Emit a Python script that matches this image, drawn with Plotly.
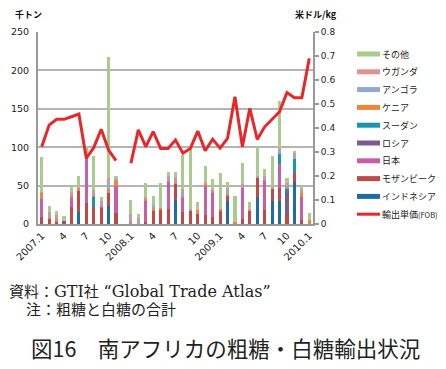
import plotly.graph_objects as go

months = ["2007.1","2007.2","2007.3","2007.4","2007.5","2007.6","2007.7","2007.8","2007.9","2007.10","2007.11","2007.12",
          "2008.1","2008.2","2008.3","2008.4","2008.5","2008.6","2008.7","2008.8","2008.9","2008.10","2008.11","2008.12",
          "2009.1","2009.2","2009.3","2009.4","2009.5","2009.6","2009.7","2009.8","2009.9","2009.10","2009.11","2009.12",
          "2010.1"]

indonesia = [0,0,0,0,0,15.5,0,0,0,24,0,None,
             0,0,0,0,0,0,31,0,0,0,0,0,
             0,30,0,0,0,35,0,30,30,0,55,0,
             0]
mozambique = [9,6,2,2.5,22,27,28,22,21,16,14,None,
              0,0,2,18,19,19,22,16,18,13,12,9,
              17,7,0,6,18,25,18,16,17,13,12,5,
              0]
japan = [24,0,0,0,12,0,62,0,2,0,36,None,
         0,0,29,0,0,36,0,19,0,0,37,32,
         0,0,0,42,0,0,38,0,31,0,0,30,
         0]
russia = [0,0,0,1,0,0,0,0,0,0,0,None,
          0,0,0,0,0,0,0,0,0,0,0,0,
          0,0,0,0,0,0,0,0,0,27,0,0,
          0]
sudan = [0,0,0,0,0,0,0,13,0,0,0,None,
         0,0,0,0,0,0,0,0,0,0,0,0,
         0,0,0,0,0,0,0,0,13,6,17,0,
         0]
kenya = [7.5,3,4,0,3,3.5,0,3,1,6,6,None,
         3,0,1,2,2,1,2,1,0,5,4,2,
         2,2,3,0,0,0,1,0,0,3,0,5,
         5]
angola = [0,4,4,0,3,0,0,3,3,8,2,None,
          4,4,0,4,0,4,4,7,2,0,0,1,
          0,6,0,2,0,2,4,0,6,2,7,4,
          0]
uganda = [1,3,2,0,2,2.5,0,3,3,6,1,None,
          6,4,3,1,0,3,2,3,0,0,2,2,
          0,2,0,2,2,1,2,2,2,2,2,1,
          0]
other = [46,7,5,7,7,14,11,44,5,157,4,None,
         18,5,19,11,32,5,7,44,78,11,21,12,
         48,8,34,28,9,37,9,41,61,7,2,5,
         9]
price = [0.322,0.412,0.436,0.436,0.447,0.458,0.274,0.318,0.395,0.308,0.264,None,
         0.253,0.392,0.322,0.385,0.315,0.315,0.35,0.295,0.315,0.387,0.305,0.353,
         0.316,0.357,0.53,0.322,0.482,0.352,0.405,0.435,0.468,0.548,0.526,0.526,
         0.69]

tick_months = ["2007.1","2007.4","2007.7","2007.10","2008.1","2008.4","2008.7","2008.10",
               "2009.1","2009.4","2009.7","2009.10","2010.1"]
tick_text = ["2007.1","4","7","10","2008.1","4","7","10","2009.1","4","7","10","2010.1"]

series = [
    ("インドネシア", indonesia, "#1F6BA5"),
    ("モザンビーク", mozambique, "#BE4A47"),
    ("日本", japan, "#C75FA6"),
    ("ロシア", russia, "#7A5A92"),
    ("スーダン", sudan, "#1B95A8"),
    ("ケニア", kenya, "#EF8538"),
    ("アンゴラ", angola, "#8EAAD2"),
    ("ウガンダ", uganda, "#DE9292"),
    ("その他", other, "#A9CB8D"),
]
line_name = "輸出単価(FOB)"
line_color = "#E8272B"

fig = go.Figure()
for name, vals, col in series:
    fig.add_trace(go.Bar(x=months, y=vals, name=name, marker_color=col,
                         marker_line_width=0))
fig.add_trace(go.Scatter(x=months, y=price, name=line_name, yaxis="y2", mode="lines",
                         line=dict(color=line_color, width=3), connectgaps=False))

# ---- layout geometry (the page body adds an 8px margin, so the figure is 8px smaller) ----
OFF = 8
W, H = 446 - OFF, 369 - OFF
L, T = 38 - OFF, 32 - OFF
pw, ph = 275, 192
R, B = W - L - pw, H - T - ph
def px_x(x): return (x - 38) / pw      # screen px -> paper
def px_y(y): return (224 - y) / ph

tickfont = dict(family="DejaVu Sans", size=10, color="#222")
fig.update_layout(
    width=W, height=H,
    margin=dict(l=L, r=R, t=T, b=B, autoexpand=False),
    paper_bgcolor="white", plot_bgcolor="white",
    barmode="stack", bargap=0.58, showlegend=False,
    xaxis=dict(type="category", categoryorder="array", categoryarray=months,
               tickmode="array", tickvals=tick_months, ticktext=tick_text,
               tickangle=-45, tickfont=tickfont, showgrid=False,
               showline=True, linecolor="#999", linewidth=2, ticks=""),
    yaxis=dict(range=[0, 250], dtick=50, showgrid=True, gridcolor="#b4b4b4", gridwidth=2,
               showline=True, linecolor="#999", linewidth=2, ticks="",
               tickfont=dict(family="DejaVu Sans", size=9.5, color="#222"),
               ticklabelstandoff=5, zeroline=False),
    yaxis2=dict(range=[0, 0.8], dtick=0.1, overlaying="y", side="right",
                showgrid=False, showline=True, linecolor="#999", linewidth=2,
                ticks="outside", ticklen=4, tickcolor="#999", tickwidth=2,
                tickfont=dict(family="DejaVu Sans", size=9, color="#222"),
                tickformat="~g", zeroline=False),
)

# ---- custom legend (wide swatches) ----
legend_items = [(n, c, "bar") for n, v, c in reversed(series)] + [(line_name, line_color, "line")]
for i, (name, col, kind) in enumerate(legend_items):
    yc = 54 + i * 17.8
    half = 1.5 if kind == "line" else 2.5
    fig.add_shape(type="rect", xref="paper", yref="paper",
                  x0=px_x(357), x1=px_x(380), y0=px_y(yc + half), y1=px_y(yc - half),
                  fillcolor=col, line=dict(width=0))
    label = name.replace("(FOB)", '<span style="font-size:7.5px">(FOB)</span>')
    fig.add_annotation(text=label, xref="paper", yref="paper", x=px_x(380), y=px_y(yc),
                       xanchor="left", yanchor="middle", showarrow=False, align="left",
                       font=dict(family="Noto Sans CJK JP", size=9, color="#222"))

# ---- axis titles & notes ----
fig.add_annotation(text="<b>千トン</b>", xref="paper", yref="paper", x=px_x(13), y=px_y(14),
                   xanchor="left", yanchor="middle", showarrow=False,
                   font=dict(family="Noto Sans CJK JP", size=9, color="#111"))
fig.add_annotation(text="<b>米ドル/kg</b>", xref="paper", yref="paper", x=px_x(293), y=px_y(14),
                   xanchor="left", yanchor="middle", showarrow=False,
                   font=dict(family="Noto Sans CJK JP", size=9, color="#111"))
serif = dict(family="DejaVu Serif, Noto Sans CJK JP", size=15, color="#222")
fig.add_annotation(text='資料：<span style="font-size:16px">GTI</span>社 <span style="font-size:16px">“Global Trade Atlas”</span>',
                   xref="paper", yref="paper", x=px_x(7), y=px_y(291),
                   xanchor="left", yanchor="middle", showarrow=False, align="left", font=serif)
fig.add_annotation(text="注：粗糖と白糖の合計", xref="paper", yref="paper",
                   x=px_x(24), y=px_y(310), xanchor="left", yanchor="middle", showarrow=False,
                   align="left", font=serif)
fig.add_annotation(text="図16　南アフリカの粗糖・白糖輸出状況", xref="paper", yref="paper",
                   x=px_x(29), y=px_y(347), xanchor="left", yanchor="middle", showarrow=False,
                   align="left", font=dict(family="Noto Sans CJK JP", size=21.5, color="#222"))

fig.write_html("out.html")
